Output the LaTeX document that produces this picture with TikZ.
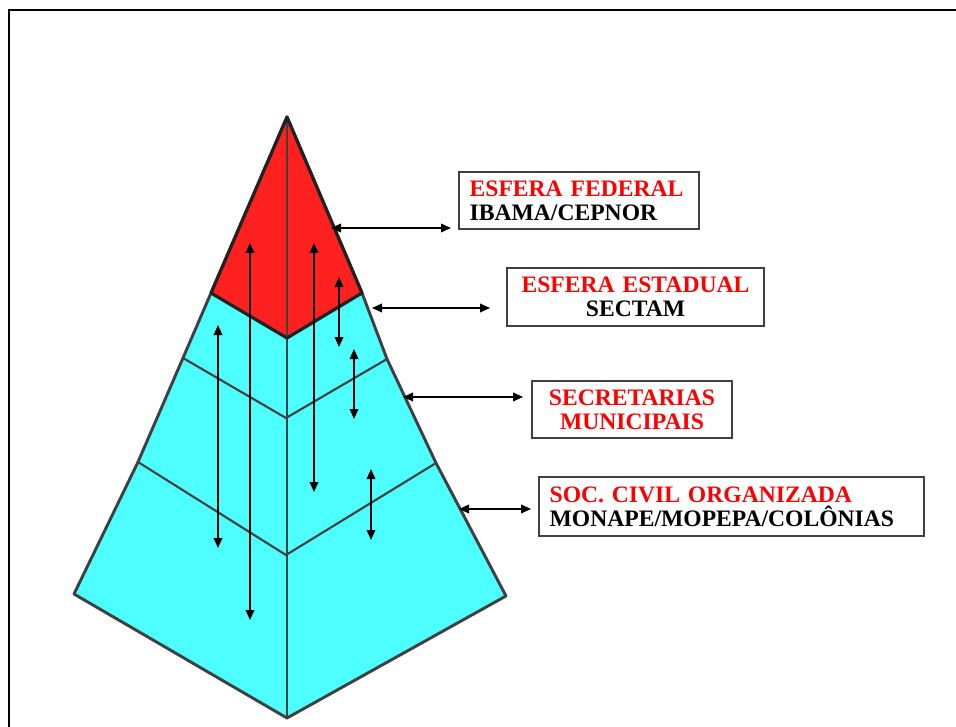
\documentclass[tikz,border=0pt]{standalone}
\usepackage{fontspec}
\setmainfont{Liberation Serif}
\usetikzlibrary{arrows.meta}
\definecolor{pyrred}{RGB}{255,32,32}
\definecolor{pyrcyan}{RGB}{77,255,255}
\definecolor{edgegray}{RGB}{64,64,64}
\definecolor{darkedge}{RGB}{34,34,34}
\tikzset{
  labelbox/.style={draw=edgegray, line width=1.1pt, fill=white, inner ysep=0pt, inner xsep=8pt,
    minimum height=43pt, font=\fontsize{17.7pt}{18pt}\selectfont\bfseries},
  biarrow/.style={{Triangle[length=7.5pt,width=6.5pt]}-{Triangle[length=7.5pt,width=6.5pt]}, line width=1pt, black},
  outline/.style={draw=edgegray, line width=2.2pt, line join=round},
  bandline/.style={draw=edgegray, line width=1.6pt},
}
\begin{document}
\begin{tikzpicture}[x=0.75pt,y=-0.75pt]
\useasboundingbox (0,0) rectangle (956,727);
\fill[white] (0,0) rectangle (956,727);
% frame
\draw[line width=1.5pt, black] (8.5,727) -- (8.5,10.5) -- (956,10.5);

% pyramid points
\coordinate (T) at (287,117);
\coordinate (L1) at (211,293); \coordinate (M1) at (287,338); \coordinate (R1) at (362,293);
\coordinate (L2) at (183,358); \coordinate (M2) at (286,418); \coordinate (R2) at (387,359);
\coordinate (L3) at (138,462); \coordinate (M3) at (286,555); \coordinate (R3) at (436,463);
\coordinate (L4) at (74,594);  \coordinate (M4) at (287,718); \coordinate (R4) at (506,596);

% fills
\fill[pyrcyan] (T) -- (L1) -- (L2) -- (L3) -- (L4) -- (M4) -- (R4) -- (R3) -- (R2) -- (R1) -- cycle;
\fill[pyrred] (T) -- (L1) -- (M1) -- (R1) -- cycle;
% band lines and center line
\draw[bandline] (L2) -- (M2) -- (R2);
\draw[bandline] (L3) -- (M3) -- (R3);
\draw[bandline] (T) -- (M4);
% outline
\draw[outline] (T) -- (L1) -- (L2) -- (L3) -- (L4) -- (M4) -- (R4) -- (R3) -- (R2) -- (R1) -- cycle;
\draw[draw=darkedge, line width=2.4pt, line join=round] (T) -- (L1) -- (M1) -- (R1) -- cycle;

% vertical arrows
\coordinate (v1t) at (218,325); \coordinate (v1b) at (218,548);
\coordinate (v2t) at (250,243); \coordinate (v2b) at (250,620);
\coordinate (v3t) at (314,243); \coordinate (v3b) at (314,492);
\coordinate (v4t) at (339,277); \coordinate (v4b) at (339,347);
\coordinate (v5t) at (354,349); \coordinate (v5b) at (354,419);
\coordinate (v6t) at (371,469); \coordinate (v6b) at (371,540);
\draw[biarrow] (v1t) -- (v1b);
\draw[biarrow] (v2t) -- (v2b);
\draw[biarrow] (v3t) -- (v3b);
\draw[biarrow] (v4t) -- (v4b);
\draw[biarrow] (v5t) -- (v5b);
\draw[biarrow] (v6t) -- (v6b);

% label boxes
\node[labelbox, text width=164pt, align=left] (fed) at (579,200.5)
  {\textcolor{red}{ESFERA FEDERAL}\\IBAMA/CEPNOR};
\node[labelbox, text width=176.75pt, align=center, minimum height=43.5pt] (est) at (635.5,297)
  {\textcolor{red}{ESFERA ESTADUAL}\\SECTAM};
\node[labelbox, text width=134pt, align=center] (mun) at (632,409.5)
  {\textcolor{red}{SECRETARIAS}\\\textcolor{red}{MUNICIPAIS}};
\node[labelbox, text width=272.75pt, align=left, minimum height=44pt] (soc) at (731.5,506.5)
  {\textcolor{red}{SOC. CIVIL ORGANIZADA}\\MONAPE/MOPEPA/COLÔNIAS};

% horizontal arrows
\coordinate (a1) at (331,228); \coordinate (a2) at (451,228);
\coordinate (b1) at (372,308); \coordinate (b2) at (490,308);
\coordinate (c1) at (403,397); \coordinate (c2) at (523,397);
\coordinate (d1) at (459,509); \coordinate (d2) at (531,509);
\draw[biarrow] (a1) -- (a2);
\draw[biarrow] (b1) -- (b2);
\draw[biarrow] (c1) -- (c2);
\draw[biarrow] (d1) -- (d2);
\end{tikzpicture}
\end{document}
